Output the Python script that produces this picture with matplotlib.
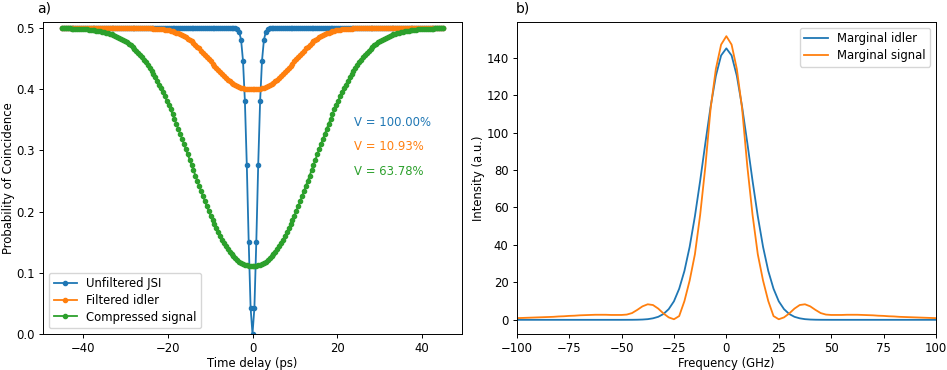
import matplotlib
matplotlib.use("Agg")
import matplotlib.pyplot as plt
import numpy as np

# ---- panel a) : HOM dips, sampled every 0.45 ps between -45 and 45 ps ----
delay_ps = np.linspace(-45, 45, 201)

unfiltered_jsi = [
    0.5, 0.5, 0.5, 0.5, 0.5, 0.5, 0.5, 0.5, 0.5, 0.5, 0.5, 0.5, 0.5,
    0.5, 0.5, 0.5, 0.5, 0.5, 0.5, 0.5, 0.5, 0.5, 0.5, 0.5, 0.5, 0.5,
    0.5, 0.5, 0.5, 0.5, 0.5, 0.5, 0.5, 0.5, 0.5, 0.5, 0.5, 0.5, 0.5,
    0.5, 0.5, 0.5, 0.5, 0.5, 0.5, 0.5, 0.5, 0.5, 0.5, 0.5, 0.5, 0.5,
    0.5, 0.5, 0.5, 0.5, 0.5, 0.5, 0.5, 0.5, 0.5, 0.5, 0.5, 0.5, 0.5,
    0.5, 0.5, 0.5, 0.5, 0.5, 0.5, 0.5, 0.5, 0.5, 0.5, 0.5, 0.5, 0.5,
    0.5, 0.5, 0.5, 0.5, 0.5, 0.5, 0.5, 0.5, 0.5, 0.5, 0.5, 0.5, 0.5,
    0.4997, 0.4984, 0.494, 0.481, 0.447, 0.381, 0.277, 0.151, 0.043,
    0.0,
    0.043, 0.151, 0.277, 0.381, 0.447, 0.481, 0.494, 0.4984, 0.4997,
    0.5, 0.5, 0.5, 0.5, 0.5, 0.5, 0.5, 0.5, 0.5, 0.5, 0.5, 0.5, 0.5,
    0.5, 0.5, 0.5, 0.5, 0.5, 0.5, 0.5, 0.5, 0.5, 0.5, 0.5, 0.5, 0.5,
    0.5, 0.5, 0.5, 0.5, 0.5, 0.5, 0.5, 0.5, 0.5, 0.5, 0.5, 0.5, 0.5,
    0.5, 0.5, 0.5, 0.5, 0.5, 0.5, 0.5, 0.5, 0.5, 0.5, 0.5, 0.5, 0.5,
    0.5, 0.5, 0.5, 0.5, 0.5, 0.5, 0.5, 0.5, 0.5, 0.5, 0.5, 0.5, 0.5,
    0.5, 0.5, 0.5, 0.5, 0.5, 0.5, 0.5, 0.5, 0.5, 0.5, 0.5, 0.5, 0.5,
    0.5, 0.5, 0.5, 0.5, 0.5, 0.5, 0.5, 0.5, 0.5, 0.5, 0.5, 0.5, 0.5,
]

filtered_idler = [
    0.5, 0.5, 0.5, 0.5, 0.5, 0.5, 0.5, 0.5, 0.5, 0.5,
    0.5, 0.5, 0.5, 0.5, 0.5, 0.5, 0.5, 0.5, 0.5, 0.5,
    0.5, 0.5, 0.5, 0.5, 0.5, 0.5, 0.5, 0.5, 0.5, 0.5,
    0.5, 0.5, 0.5, 0.5, 0.5, 0.5, 0.5, 0.5, 0.5, 0.5,
    0.4999, 0.4999, 0.4999, 0.4998, 0.4998, 0.4997, 0.4996, 0.4995, 0.4993, 0.4992,
    0.4989, 0.4987, 0.4984, 0.4980, 0.4976, 0.4970, 0.4964, 0.4957, 0.4949, 0.4939,
    0.4928, 0.4916, 0.4902, 0.4887, 0.4869, 0.4850, 0.4830, 0.4807, 0.4783, 0.4756,
    0.4728, 0.4698, 0.4667, 0.4634, 0.4600, 0.4565, 0.4529, 0.4493, 0.4456, 0.4419,
    0.4383, 0.4346, 0.4311, 0.4277, 0.4244, 0.4212, 0.4182, 0.4155, 0.4129, 0.4106,
    0.4084, 0.4066, 0.4050, 0.4036, 0.4025, 0.4016, 0.4009, 0.4005, 0.4002, 0.4000,
    0.4000,
    0.4000, 0.4002, 0.4005, 0.4009, 0.4016, 0.4025, 0.4036, 0.4050, 0.4066, 0.4084,
    0.4106, 0.4129, 0.4155, 0.4182, 0.4212, 0.4244, 0.4277, 0.4311, 0.4346, 0.4383,
    0.4419, 0.4456, 0.4493, 0.4529, 0.4565, 0.4600, 0.4634, 0.4667, 0.4698, 0.4728,
    0.4756, 0.4783, 0.4807, 0.4830, 0.4850, 0.4869, 0.4887, 0.4902, 0.4916, 0.4928,
    0.4939, 0.4949, 0.4957, 0.4964, 0.4970, 0.4976, 0.4980, 0.4984, 0.4987, 0.4989,
    0.4992, 0.4993, 0.4995, 0.4996, 0.4997, 0.4998, 0.4998, 0.4999, 0.4999, 0.4999,
    0.5, 0.5, 0.5, 0.5, 0.5, 0.5, 0.5, 0.5, 0.5, 0.5,
    0.5, 0.5, 0.5, 0.5, 0.5, 0.5, 0.5, 0.5, 0.5, 0.5,
    0.5, 0.5, 0.5, 0.5, 0.5, 0.5, 0.5, 0.5, 0.5, 0.5,
    0.5, 0.5, 0.5, 0.5, 0.5, 0.5, 0.5, 0.5, 0.5, 0.5,
]

compressed_signal = [
    0.4997, 0.4996, 0.4996, 0.4995, 0.4994, 0.4993, 0.4992, 0.4991, 0.4990, 0.4988,
    0.4986, 0.4984, 0.4982, 0.4979, 0.4976, 0.4973, 0.4969, 0.4965, 0.4960, 0.4955,
    0.4949, 0.4942, 0.4935, 0.4927, 0.4918, 0.4908, 0.4898, 0.4886, 0.4873, 0.4859,
    0.4843, 0.4826, 0.4808, 0.4788, 0.4766, 0.4743, 0.4718, 0.4691, 0.4662, 0.4631,
    0.4598, 0.4563, 0.4525, 0.4485, 0.4443, 0.4398, 0.4351, 0.4302, 0.4250, 0.4195,
    0.4138, 0.4078, 0.4016, 0.3951, 0.3885, 0.3815, 0.3744, 0.3670, 0.3595, 0.3517,
    0.3438, 0.3357, 0.3275, 0.3191, 0.3107, 0.3021, 0.2935, 0.2849, 0.2762, 0.2675,
    0.2589, 0.2503, 0.2418, 0.2333, 0.2250, 0.2169, 0.2089, 0.2011, 0.1936, 0.1863,
    0.1792, 0.1725, 0.1660, 0.1598, 0.1540, 0.1486, 0.1435, 0.1387, 0.1344, 0.1304,
    0.1268, 0.1237, 0.1209, 0.1185, 0.1164, 0.1148, 0.1135, 0.1125, 0.1119, 0.1116,
    0.1115,
    0.1116, 0.1119, 0.1125, 0.1135, 0.1148, 0.1164, 0.1185, 0.1209, 0.1237, 0.1268,
    0.1304, 0.1344, 0.1387, 0.1435, 0.1486, 0.1540, 0.1598, 0.1660, 0.1725, 0.1792,
    0.1863, 0.1936, 0.2011, 0.2089, 0.2169, 0.2250, 0.2333, 0.2418, 0.2503, 0.2589,
    0.2675, 0.2762, 0.2849, 0.2935, 0.3021, 0.3107, 0.3191, 0.3275, 0.3357, 0.3438,
    0.3517, 0.3595, 0.3670, 0.3744, 0.3815, 0.3885, 0.3951, 0.4016, 0.4078, 0.4138,
    0.4195, 0.4250, 0.4302, 0.4351, 0.4398, 0.4443, 0.4485, 0.4525, 0.4563, 0.4598,
    0.4631, 0.4662, 0.4691, 0.4718, 0.4743, 0.4766, 0.4788, 0.4808, 0.4826, 0.4843,
    0.4859, 0.4873, 0.4886, 0.4898, 0.4908, 0.4918, 0.4927, 0.4935, 0.4942, 0.4949,
    0.4955, 0.4960, 0.4965, 0.4969, 0.4973, 0.4976, 0.4979, 0.4982, 0.4984, 0.4986,
    0.4988, 0.4990, 0.4991, 0.4992, 0.4993, 0.4994, 0.4995, 0.4996, 0.4996, 0.4997,
]

dip_labels = ["Unfiltered JSI", "Filtered idler", "Compressed signal"]
visibilities = ["V = 100.00%", "V = 10.93%", "V = 63.78%"]

# ---- panel b) : marginal spectra, every 2.5 GHz ----
freq_ghz = np.linspace(-100, 100, 81)

marginal_idler = [
    0.0, 0.0, 0.0, 0.0, 0.0, 0.0, 0.0, 0.0, 0.0, 0.0,
    0.0, 0.0, 0.0, 0.0, 0.0, 0.0, 0.0, 0.0, 0.0, 0.0, 0.0,
    0.01, 0.02, 0.06, 0.15, 0.35, 0.8, 1.6, 3.1, 5.7, 9.9,
    16.6, 26.1, 39.0, 55.3, 74.2, 94.5, 113.9, 130.3, 141.2,
    145.0,
    141.2, 130.3, 113.9, 94.5, 74.2, 55.3, 39.0, 26.1, 16.6,
    9.9, 5.7, 3.1, 1.6, 0.8, 0.35, 0.15, 0.06, 0.02, 0.01,
    0.0, 0.0, 0.0, 0.0, 0.0, 0.0, 0.0, 0.0, 0.0, 0.0, 0.0,
    0.0, 0.0, 0.0, 0.0, 0.0, 0.0, 0.0, 0.0, 0.0, 0.0,
]

marginal_signal = [
    0.9, 1.0, 1.1, 1.2, 1.3, 1.4, 1.5, 1.6, 1.8, 1.9,
    2.1, 2.2, 2.4, 2.5, 2.6, 2.7, 2.7, 2.7, 2.6, 2.6,
    2.6, 2.8, 3.6, 5.3, 7.2, 8.3, 7.9, 6.0, 3.4, 1.3,
    0.3, 2.0, 10.0, 21.0, 35.0, 56.0, 82.0, 113.0, 134.0, 147.0,
    151.5,
    147.0, 134.0, 113.0, 82.0, 56.0, 35.0, 21.0, 10.0, 2.0, 0.3,
    1.3, 3.4, 6.0, 7.9, 8.3, 7.2, 5.3, 3.6, 2.8, 2.6,
    2.6, 2.6, 2.7, 2.7, 2.7, 2.6, 2.5, 2.4, 2.2, 2.1,
    1.9, 1.8, 1.6, 1.5, 1.4, 1.3, 1.2, 1.1, 1.0, 0.9,
]

# the reference looks like a default figure shrunk by ~0.84
plt.rcParams.update({
    "font.size": 8.4,
    "lines.linewidth": 1.3,
    "axes.linewidth": 0.7,
    "xtick.major.size": 3.0,
    "ytick.major.size": 3.0,
    "xtick.major.width": 0.7,
    "ytick.major.width": 0.7,
    "xtick.major.pad": 2.9,
    "ytick.major.pad": 2.9,
    "legend.fontsize": 8.4,
    "legend.labelspacing": 0.3,
})

colors = ["#1f77b4", "#ff7f0e", "#2ca02c"]

fig = plt.figure(figsize=(9.47, 3.7), dpi=100)
ax1 = fig.add_axes([43 / 947, 36 / 370, 419 / 947, 312 / 370])
ax2 = fig.add_axes([516.7 / 947, 36 / 370, 419.3 / 947, 312 / 370])

for ys, lab, col in zip([unfiltered_jsi, filtered_idler, compressed_signal], dip_labels, colors):
    ax1.plot(delay_ps, ys, ".-", color=col, label=lab, markersize=6)

for txt, ty, col in zip(visibilities, [0.3465, 0.3069, 0.266], colors):
    ax1.text(24.0, ty, txt, color=col, va="center", ha="left")

ax1.set_ylim(0, 0.51)
ax1.set_xlim(-49.5, 49.5)
ax1.set_xlabel("Time delay (ps)", labelpad=1)
ax1.set_ylabel("Probability of Coincidence", labelpad=1)
ax1.legend(loc="lower left")

ax2.plot(freq_ghz, marginal_idler, color=colors[0], label="Marginal idler")
ax2.plot(freq_ghz, marginal_signal, color=colors[1], label="Marginal signal")
ax2.set_xlim(-100, 100)
ax2.set_xlabel("Frequency (GHz)", labelpad=1)
ax2.set_ylabel("Intensity (a.u.)", labelpad=1)
ax2.legend(loc="upper right")

fig.text(37 / 947, 1 - 2 / 370, "a)", fontsize=10, va="top", ha="left")
fig.text(516 / 947, 1 - 2 / 370, "b)", fontsize=10, va="top", ha="left")

fig.savefig("out.png", dpi=100)
